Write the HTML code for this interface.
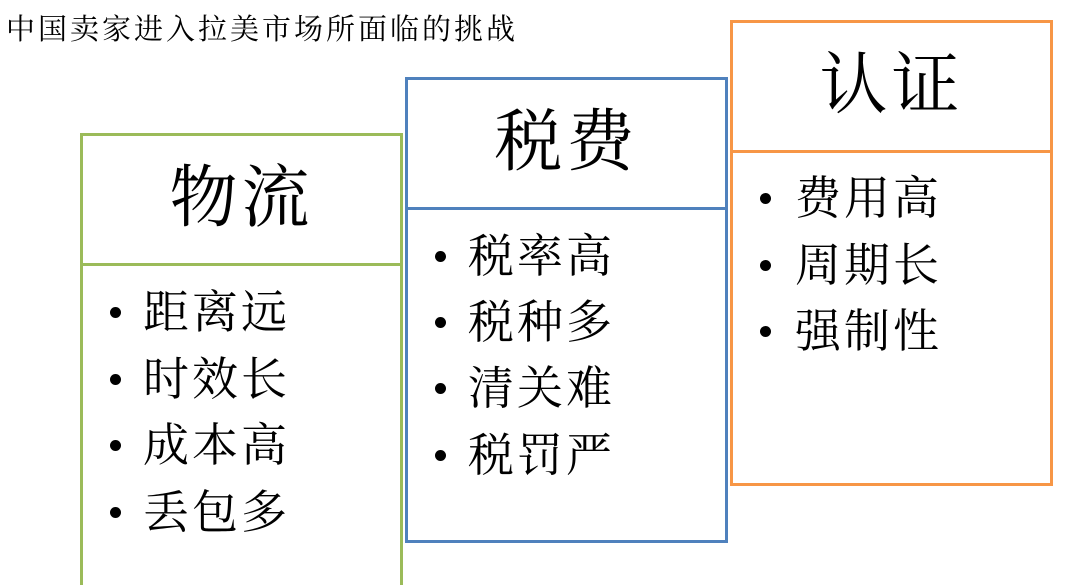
<!DOCTYPE html>
<html style="overflow:hidden;width:1080px;height:585px"><head><meta charset="utf-8"><style>
body{margin:0;width:1080px;height:585px;background:#fff;position:relative;overflow:hidden;font-family:"Liberation Serif","Noto Serif CJK SC",serif;color:#000}
.t{position:absolute;left:6px;top:13px;font-size:29px;line-height:34px;letter-spacing:3px;white-space:nowrap}
.box{position:absolute;border:3px solid;box-sizing:border-box}
.hl{position:absolute;left:0;right:0;border-top:3px solid}
.h{position:absolute;left:0;right:0;text-align:center;font-size:68px;line-height:80px;letter-spacing:4px}
.it{position:absolute;font-size:46px;line-height:56px;letter-spacing:3px;white-space:nowrap}
.b{position:absolute;width:11px;height:11px;border-radius:50%;background:#000}
</style></head><body>
<div class="t">中国卖家进入拉美市场所面临的挑战</div>

<div class="box" style="left:80px;top:133px;width:323px;height:452px;border-bottom:none;border-color:#9bbb59">
 <div class="hl" style="top:127px;border-color:#9bbb59"></div>
 <div class="h" style="top:22px">物流</div>
</div>
<div class="box" style="left:405px;top:77px;width:323px;height:466px;border-color:#4f81bd">
 <div class="hl" style="top:127px;border-color:#4f81bd"></div>
 <div class="h" style="top:22px">税费</div>
</div>
<div class="box" style="left:730px;top:20px;width:323px;height:466px;border-color:#f79646">
 <div class="hl" style="top:127px;border-color:#f79646"></div>
 <div class="h" style="top:22px">认证</div>
</div>

<div class="b" style="left:110px;top:307px"></div><div class="it" style="left:143px;top:285px">距离远</div>
<div class="b" style="left:110px;top:374px"></div><div class="it" style="left:143px;top:352px">时效长</div>
<div class="b" style="left:110px;top:440px"></div><div class="it" style="left:143px;top:418px">成本高</div>
<div class="b" style="left:110px;top:507px"></div><div class="it" style="left:143px;top:485px">丢包多</div>

<div class="b" style="left:435px;top:251px"></div><div class="it" style="left:468px;top:229px">税率高</div>
<div class="b" style="left:435px;top:317px"></div><div class="it" style="left:468px;top:295px">税种多</div>
<div class="b" style="left:435px;top:383px"></div><div class="it" style="left:468px;top:361px">清关难</div>
<div class="b" style="left:435px;top:450px"></div><div class="it" style="left:468px;top:428px">税罚严</div>

<div class="b" style="left:760px;top:193px"></div><div class="it" style="left:795px;top:171px">费用高</div>
<div class="b" style="left:760px;top:260px"></div><div class="it" style="left:795px;top:238px">周期长</div>
<div class="b" style="left:760px;top:326px"></div><div class="it" style="left:795px;top:304px">强制性</div>
</body></html>
